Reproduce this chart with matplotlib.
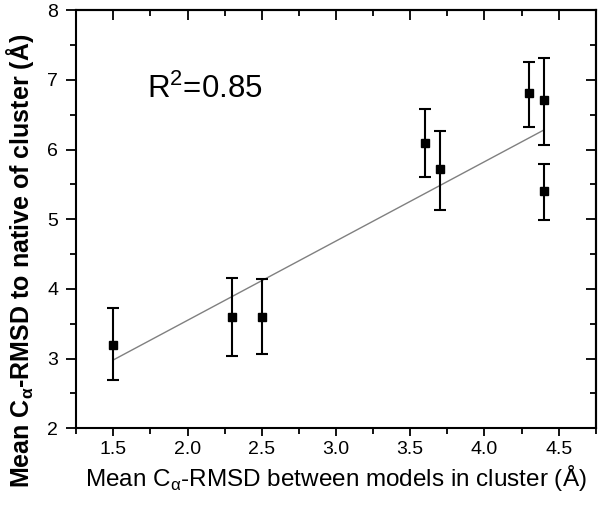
import numpy as np
import matplotlib
matplotlib.use('Agg')
import matplotlib.pyplot as plt
from matplotlib.ticker import MultipleLocator

plt.rcParams['font.family'] = ['Liberation Sans', 'DejaVu Sans']
plt.rcParams['mathtext.fontset'] = 'custom'
plt.rcParams['mathtext.rm'] = 'Liberation Sans'
plt.rcParams['mathtext.bf'] = 'Liberation Sans:bold'

# dane
x = [1.5, 2.3, 2.5, 3.6, 3.7, 4.3, 4.4, 4.4]
y = [3.2, 3.6, 3.6, 6.1, 5.72, 6.81, 6.71, 5.40]
y_gora = [3.73, 4.16, 4.14, 6.58, 6.26, 7.25, 7.31, 5.79]
y_dol = [2.69, 3.04, 3.06, 5.60, 5.13, 6.32, 6.07, 4.99]

# linia dopasowania
fit_x = [1.5, 4.4]
fit_y = [2.98, 6.28]

err = [np.array(y) - np.array(y_dol), np.array(y_gora) - np.array(y)]

fig = plt.figure(figsize=(6, 5.08), dpi=100)
ax = fig.add_axes([0.127, 0.157, 0.866, 0.823])

ax.plot(fit_x, fit_y, color='#808080', lw=1.0, zorder=2)
ax.errorbar(x, y, yerr=err, fmt='s', color='black', ms=6, capsize=4,
            elinewidth=1.5, capthick=1.5, zorder=3)

ax.set_xlim(1.25, 4.75)
ax.set_ylim(2, 8)
ax.xaxis.set_major_locator(MultipleLocator(0.5))
ax.xaxis.set_minor_locator(MultipleLocator(0.25))
ax.yaxis.set_major_locator(MultipleLocator(1))
ax.yaxis.set_minor_locator(MultipleLocator(0.5))
ax.xaxis.set_major_formatter(plt.FormatStrFormatter('%.1f'))
ax.tick_params(which='major', direction='out', length=7, width=1.3, labelsize=14)
ax.tick_params(which='minor', direction='out', length=4, width=1.3)
ax.tick_params(axis='x', which='major', length=6, pad=3)
ax.tick_params(axis='y', pad=6)
for s in ax.spines.values():
    s.set_linewidth(1.5)

# osie gorna i prawa z tickami do srodka
top = ax.secondary_xaxis('top')
top.xaxis.set_major_locator(MultipleLocator(0.5))
top.xaxis.set_minor_locator(MultipleLocator(0.25))
top.tick_params(which='major', direction='in', length=7, width=1.3, labeltop=False)
top.tick_params(which='minor', direction='in', length=4, width=1.3)
top.spines['top'].set_linewidth(1.5)
right = ax.secondary_yaxis('right')
right.yaxis.set_major_locator(MultipleLocator(1))
right.yaxis.set_minor_locator(MultipleLocator(0.5))
right.tick_params(which='major', direction='in', length=7, width=1.3, labelright=False)
right.tick_params(which='minor', direction='in', length=4, width=1.3)
right.spines['right'].set_linewidth(1.5)

ax.set_xlabel('Mean C$_{\\mathregular{α}}$-RMSD between models in cluster (Å)',
              fontsize=17.5, labelpad=4)
ax.set_ylabel('Mean C$_{\\mathbf{α}}$-RMSD to native of cluster (Å)', fontsize=18,
              fontweight='bold')
ax.yaxis.set_label_coords(-0.078, 0.40)
ax.text(1.73, 6.74, 'R$^{\\mathregular{2}}$=0.85', fontsize=22.5)

fig.savefig('out.png', dpi=100)
